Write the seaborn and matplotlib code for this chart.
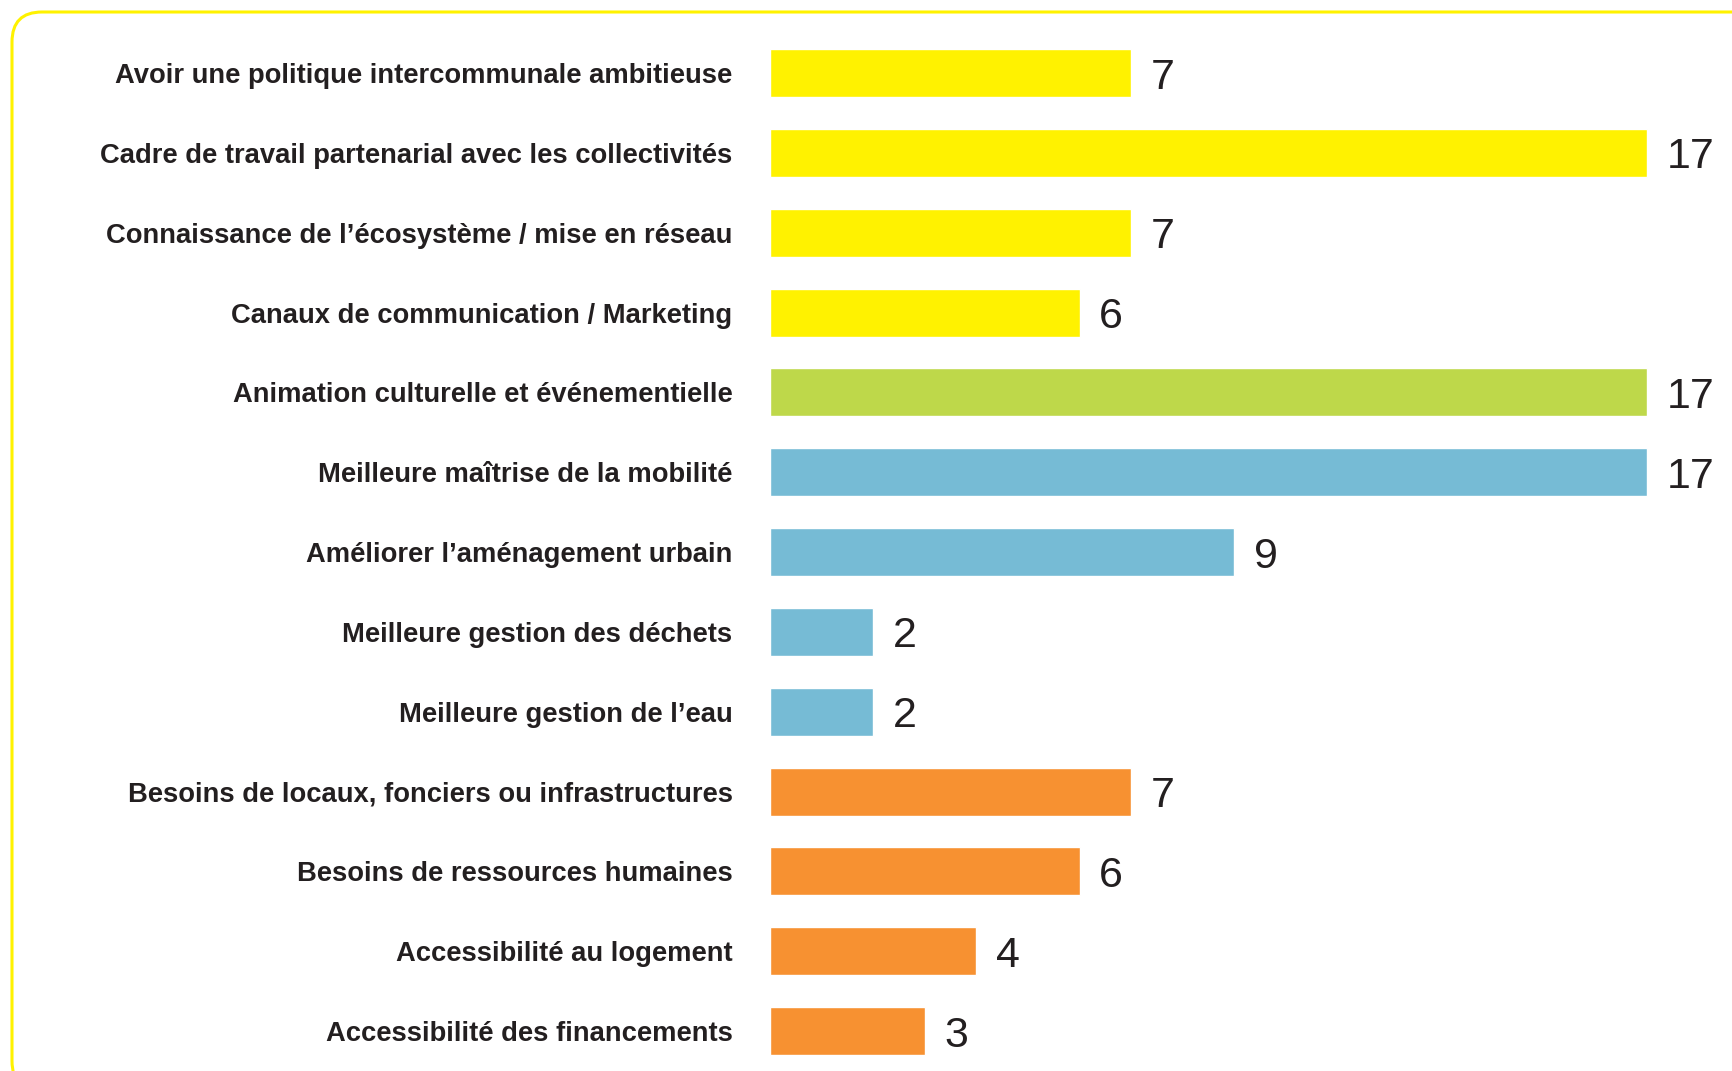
import matplotlib
matplotlib.use("Agg")
import matplotlib.pyplot as plt
from matplotlib.patches import FancyBboxPatch
import pandas as pd
import seaborn as sns

labels = [
    "Avoir une politique intercommunale ambitieuse",
    "Cadre de travail partenarial avec les collectivités",
    "Connaissance de l’écosystème / mise en réseau",
    "Canaux de communication / Marketing",
    "Animation culturelle et événementielle",
    "Meilleure maîtrise de la mobilité",
    "Améliorer l’aménagement urbain",
    "Meilleure gestion des déchets",
    "Meilleure gestion de l’eau",
    "Besoins de locaux, fonciers ou infrastructures",
    "Besoins de ressources humaines",
    "Accessibilité au logement",
    "Accessibilité des financements",
]
values = [7, 17, 7, 6, 17, 17, 9, 2, 2, 7, 6, 4, 3]
groups = ["gouv", "gouv", "gouv", "gouv", "culture", "env", "env", "env", "env",
          "res", "res", "res", "res"]
group_colors = {"gouv": "#fff200", "culture": "#bed84a", "env": "#76bbd5", "res": "#f79131"}

df = pd.DataFrame({"label": labels, "value": values, "group": groups})
palette = [group_colors[g] for g in groups]

sns.set_style("white")
plt.rcParams["font.family"] = ["Liberation Sans", "DejaVu Sans"]

fig = plt.figure(figsize=(17.32, 10.71), dpi=100)
ax = fig.add_axes([770 / 1732, 0, 1 - 770 / 1732, 1])

sns.barplot(data=df, y="label", x="value", hue="label", palette=palette,
            legend=False, width=0.6, saturation=1, ax=ax)

ax.set_xlim(0, 962 / 51.6)
ax.set_ylim(12.5, -0.915)
ax.set_xlabel("")
ax.set_ylabel("")
ax.set_xticks([])
ax.tick_params(axis="y", length=0, pad=27)
for t in ax.get_yticklabels():
    t.set_fontsize(19.7)
    t.set_fontweight("bold")
    t.set_color("#231f20")
sns.despine(ax=ax, left=True, bottom=True)
ax.patch.set_alpha(0)

for c in ax.containers:
    for txt in ax.bar_label(c, padding=14, fontsize=31, color="#231f20"):
        txt.set_va("center_baseline")

# rounded yellow frame (display coords, origin bottom-left)
frame = FancyBboxPatch((12, -20), 1760, 1079, boxstyle="round,pad=0,rounding_size=30",
                       transform=None, fill=False, edgecolor="#fff200", linewidth=2.2,
                       clip_on=False)
fig.patches.append(frame)

fig.savefig("out.png", dpi=100)
